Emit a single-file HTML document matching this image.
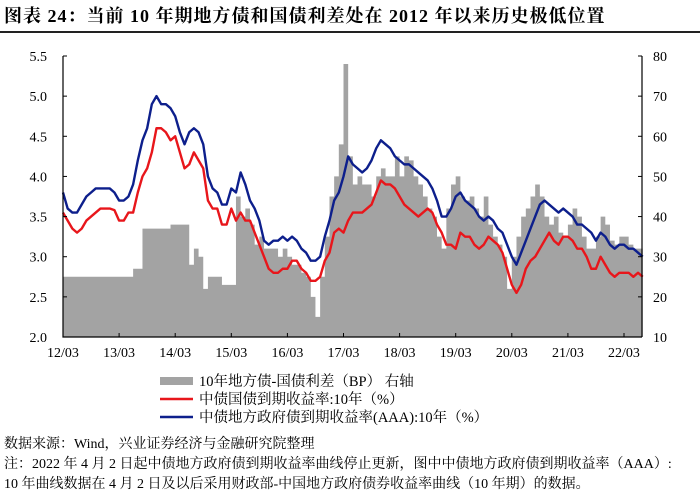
<!DOCTYPE html>
<html><head><meta charset="utf-8">
<style>
body{margin:0;background:#fff;width:700px;height:493px;overflow:hidden;font-family:"Liberation Serif","Noto Serif CJK SC",serif;color:#000}
#title{position:absolute;left:4px;top:2px;font-size:18px;font-weight:bold;white-space:nowrap;letter-spacing:1px}
#rule{position:absolute;left:0;top:31px;width:700px;height:2px;background:#222}
.note{position:absolute;left:4px;font-size:14px;white-space:nowrap}
</style></head><body>
<div id="title">图表 24：当前 10 年期地方债和国债利差处在 2012 年以来历史极低位置</div>
<div id="rule"></div>
<svg id="chart" width="700" height="430" style="position:absolute;left:0;top:0"></svg>
<div class="note" style="top:433px">数据来源：Wind，兴业证券经济与金融研究院整理</div>
<div class="note" style="top:453px">注：2022 年 4 月 2 日起中债地方政府债到期收益率曲线停止更新，图中中债地方政府债到期收益率（AAA）:</div>
<div class="note" style="top:473px">10 年曲线数据在 4 月 2 日及以后采用财政部-中国地方政府债券收益率曲线（10 年期）的数据。</div>
<script>
const xLabels=["12/03","13/03","14/03","15/03","16/03","17/03","18/03","19/03","20/03","21/03","22/03"];
const leftTicks=[2.0,2.5,3.0,3.5,4.0,4.5,5.0,5.5];
const rightTicks=[10,20,30,40,50,60,70,80];
const govYield=[3.55,3.45,3.35,3.30,3.35,3.45,3.50,3.55,3.60,3.60,
3.60,3.58,3.45,3.45,3.55,3.55,3.80,4.00,4.10,4.30,4.60,4.60,
4.55,4.45,4.50,4.30,4.10,4.15,4.30,4.20,4.10,3.70,3.60,3.60,
3.40,3.40,3.60,3.45,3.55,3.45,3.45,3.30,3.15,3.00,2.85,2.80,
2.80,2.85,2.85,2.95,2.95,2.85,2.80,2.70,2.70,2.75,2.95,3.05,
3.30,3.35,3.30,3.45,3.55,3.55,3.55,3.60,3.65,3.80,3.95,3.90,
3.90,3.85,3.75,3.65,3.60,3.55,3.50,3.55,3.60,3.55,3.40,3.30,
3.15,3.15,3.10,3.30,3.25,3.25,3.15,3.10,3.15,3.25,3.20,3.15,
3.05,2.85,2.65,2.55,2.65,2.85,2.95,3.00,3.10,3.20,3.30,3.20,
3.15,3.25,3.25,3.20,3.10,3.10,3.00,2.85,2.85,3.00,2.90,2.80,
2.75,2.80,2.80,2.80,2.75,2.80,2.75];
const localYield=[3.80,3.60,3.55,3.55,3.65,3.75,3.80,3.85,3.85,3.85,
3.85,3.80,3.70,3.70,3.75,3.90,4.20,4.45,4.60,4.90,5.00,4.90,
4.90,4.85,4.75,4.55,4.40,4.55,4.60,4.55,4.40,4.00,3.85,3.80,
3.65,3.65,3.85,3.80,4.05,3.90,3.70,3.60,3.45,3.20,3.15,3.20,
3.20,3.25,3.20,3.25,3.20,3.10,3.05,2.95,2.95,3.00,3.25,3.45,
3.70,3.80,4.00,4.25,4.15,4.10,4.05,4.10,4.20,4.35,4.45,4.40,
4.35,4.25,4.20,4.15,4.15,4.10,4.05,4.00,3.95,3.85,3.70,3.50,
3.50,3.60,3.75,3.80,3.70,3.65,3.60,3.50,3.45,3.50,3.45,3.35,
3.30,3.15,3.00,2.90,3.05,3.20,3.35,3.50,3.65,3.70,3.65,3.60,
3.55,3.60,3.55,3.50,3.40,3.40,3.35,3.30,3.20,3.30,3.25,3.15,
3.10,3.15,3.15,3.10,3.10,3.05,3.00];
const spreadBP=[25,25,25,25,25,25,25,25,25,25,
25,25,25,25,25,27,27,37,37,37,37,37,
37,38,38,38,38,28,32,30,22,25,25,25,
23,23,23,45,40,42,38,33,35,32,32,32,
30,32,30,28,28,26,25,20,15,25,35,45,
50,58,78,55,48,50,48,48,45,50,52,50,
50,55,50,55,54,50,48,45,42,40,35,32,
42,48,50,45,44,45,42,40,45,38,35,33,
30,22,30,35,40,42,45,48,45,40,38,40,
36,35,38,42,40,35,32,32,35,40,38,34,
33,35,35,33,32,32,28];
const NS="http://www.w3.org/2000/svg";
const svg=document.getElementById('chart');
const X0=63,X1=642,Y0=337,Y1=56,PX_PER_YEAR=56.1;
const xAt=i=>X0+i/12*PX_PER_YEAR;
const yL=v=>Y0-(v-2)/(5.5-2)*(Y0-Y1);
const yR=v=>Y0-(v-10)/(80-10)*(Y0-Y1);
function mk(tag,attrs){const e=document.createElementNS(NS,tag);for(const k in attrs)e.setAttribute(k,attrs[k]);svg.appendChild(e);return e;}
let d=`M${xAt(0)},${Y0}`;
spreadBP.forEach((v,i)=>{d+=` L${xAt(i)},${yR(v)}`;if(i<spreadBP.length-1)d+=` L${xAt(i+1)},${yR(v)}`;});
d+=` L${xAt(spreadBP.length-1)},${Y0} Z`;
const area=mk('path',{d:d,fill:'#a3a3a3'});


function line(arr,color,name){const p=mk('polyline',{points:arr.map((v,i)=>xAt(i)+','+yL(v)).join(' '),fill:'none',stroke:color,'stroke-width':2.4,'stroke-linejoin':'round'});

}
line(govYield,'#e8161b','gov-yield-line');
line(localYield,'#0d1f8c','local-yield-line');
const ax=mk('path',{d:`M${X0},${Y1} L${X0},${Y0} L${X1},${Y0} M${X1},${Y1} L${X1},${Y0}`,stroke:'#000','stroke-width':1.2,fill:'none'});


leftTicks.forEach(v=>{const y=yL(v);mk('line',{x1:X0,x2:X0+4,y1:y,y2:y,stroke:'#000'});
const t=mk('text',{x:X0-16,y:y+5,'text-anchor':'end','font-size':14,'font-family':'Liberation Serif, serif'});t.textContent=v.toFixed(1);

});
rightTicks.forEach(v=>{const y=yR(v);mk('line',{x1:X1-4,x2:X1,y1:y,y2:y,stroke:'#000'});
const t=mk('text',{x:X1+11,y:y+5,'text-anchor':'start','font-size':14,'font-family':'Liberation Serif, serif'});t.textContent=v;

});
xLabels.forEach((s,i)=>{const x=X0+i*PX_PER_YEAR;mk('line',{x1:x,x2:x,y1:Y0,y2:Y0-4,stroke:'#000'});
const t=mk('text',{x:x,y:Y0+20,'text-anchor':'middle','font-size':14,'font-family':'Liberation Serif, serif'});t.textContent=s;

});
const leg=[['#a3a3a3',8,'10年地方债-国债利差（BP） 右轴','legend-spread'],['#e8161b',2.5,'中债国债到期收益率:10年（%）','legend-gov'],['#0d1f8c',2.5,'中债地方政府债到期收益率(AAA):10年（%）','legend-local']];
leg.forEach((l,i)=>{const y=381+i*18;mk('line',{x1:160,x2:193,y1:y,y2:y,stroke:l[0],'stroke-width':l[1]});
const t=mk('text',{x:199,y:y+5,'font-size':14.5,'font-family':'Liberation Serif, Noto Serif CJK SC, serif'});t.textContent=l[2];

});
</script>
</body></html>
